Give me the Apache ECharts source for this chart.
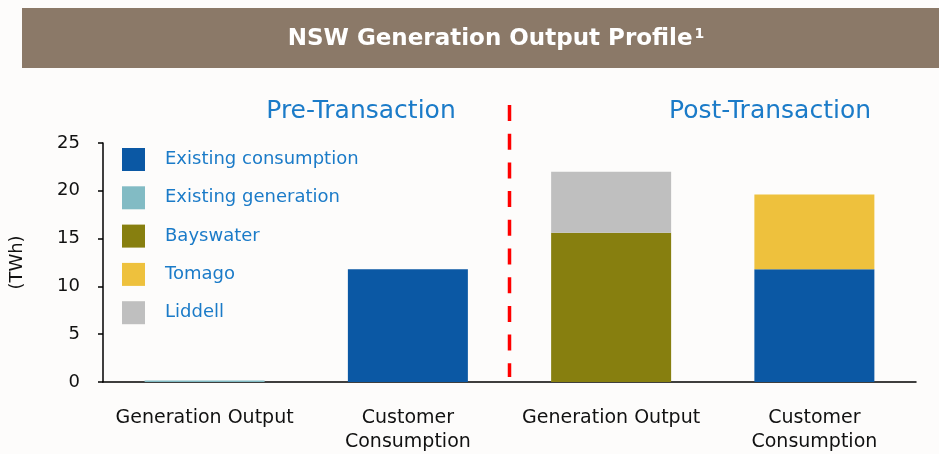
<!DOCTYPE html>
<html>
<head>
<meta charset="utf-8">
<script src="https://cdn.jsdelivr.net/npm/echarts@6/dist/echarts.min.js"></script>
<style>
html,body{margin:0;padding:0;background:#fdfcfb;overflow:hidden;}
#main{width:939px;height:454px;}
</style>
</head>
<body>
<div id="main"></div>
<script>
const categories = ['Generation Output', 'Customer\nConsumption', 'Generation Output', 'Customer\nConsumption'];
const existingConsumption = [null, 11.8, null, 11.8];
const existingGeneration = [0.15, null, null, null];
const bayswater = [null, null, 15.6, null];
const tomago = [null, null, null, 7.8];
const liddell = [null, null, 6.4, null];
const yTicks = { min: 0, max: 25, interval: 5 };

const FONT = 'DejaVu Sans';
const chart = echarts.init(document.getElementById('main'), null, { renderer: 'canvas', width: 939, height: 454 });

function bar(name, data, color) {
  return { name, type: 'bar', stack: 'total', data, barWidth: 120,
    itemStyle: { color }, emphasis: { disabled: true } };
}

chart.setOption({
  backgroundColor: '#fdfcfb',
  animation: false,
  textStyle: { fontFamily: FONT },
  legend: {
    orient: 'vertical', left: 122, top: 148, padding: 0,
    itemWidth: 23, itemHeight: 23, itemGap: 15.3, icon: 'rect',
    selectedMode: false,
    textStyle: { color: '#1b7bc8', fontSize: 18, fontFamily: FONT, padding: [0, 0, 0, 15] },
    data: ['Existing consumption', 'Existing generation', 'Bayswater', 'Tomago', 'Liddell']
  },
  grid: { left: 101, width: 815, top: 143, height: 242, containLabel: false },
  xAxis: {
    type: 'category', data: categories,
    axisLine: { lineStyle: { color: '#000', width: 1.5 } },
    axisTick: { show: false },
    axisLabel: { color: '#111', fontSize: 19, fontFamily: FONT, margin: 24, lineHeight: 24, interval: 0 }
  },
  yAxis: {
    type: 'value', min: yTicks.min, max: yTicks.max, interval: yTicks.interval,
    name: '(TWh)', nameLocation: 'middle', nameGap: 77, nameRotate: 90,
    nameTextStyle: { color: '#111', fontSize: 18, fontFamily: FONT },
    axisLine: { show: true, lineStyle: { color: '#000', width: 1.5 } },
    axisTick: { show: true, length: 5, lineStyle: { color: '#000', width: 1.5 } },
    splitLine: { show: false },
    axisLabel: { color: '#111', fontSize: 18, fontFamily: FONT, margin: 23 }
  },
  series: [
    bar('Existing consumption', existingConsumption, '#0b58a4'),
    bar('Existing generation', existingGeneration, '#82bbc4'),
    bar('Bayswater', bayswater, '#877f0f'),
    bar('Tomago', tomago, '#eec13d'),
    bar('Liddell', liddell, '#bfbfbf')
  ]
});

const x1 = chart.convertToPixel({ xAxisIndex: 0 }, 1);
const x2 = chart.convertToPixel({ xAxisIndex: 0 }, 2);
const xm = (x1 + x2) / 2;
chart.setOption({
  graphic: [
    { type: 'rect', z: -1, shape: { x: 22, y: 8, width: 917, height: 60 }, style: { fill: '#8b7968' }, silent: true },
    { type: 'text', x: 496, y: 39, silent: true,
      style: { text: 'NSW Generation Output Profile{sup|1}', align: 'center', verticalAlign: 'middle',
        fill: '#fff', font: 'bold 23px "DejaVu Sans"',
        rich: { sup: { fill: '#fff', font: 'bold 14px "DejaVu Sans"', verticalAlign: 'top', padding: [0, 0, 9, 2] } } } },
    { type: 'text', x: 361, y: 111, silent: true,
      style: { text: 'Pre-Transaction', align: 'center', verticalAlign: 'middle', fill: '#1b7bc8', font: '25px "DejaVu Sans"' } },
    { type: 'text', x: 770, y: 111, silent: true,
      style: { text: 'Post-Transaction', align: 'center', verticalAlign: 'middle', fill: '#1b7bc8', font: '25px "DejaVu Sans"' } },
    { type: 'line', shape: { x1: xm, y1: 105, x2: xm, y2: 377 },
      style: { stroke: '#ff0000', lineWidth: 3.5, lineDash: [16, 12.7] }, silent: true }
  ]
});
</script>
</body>
</html>
